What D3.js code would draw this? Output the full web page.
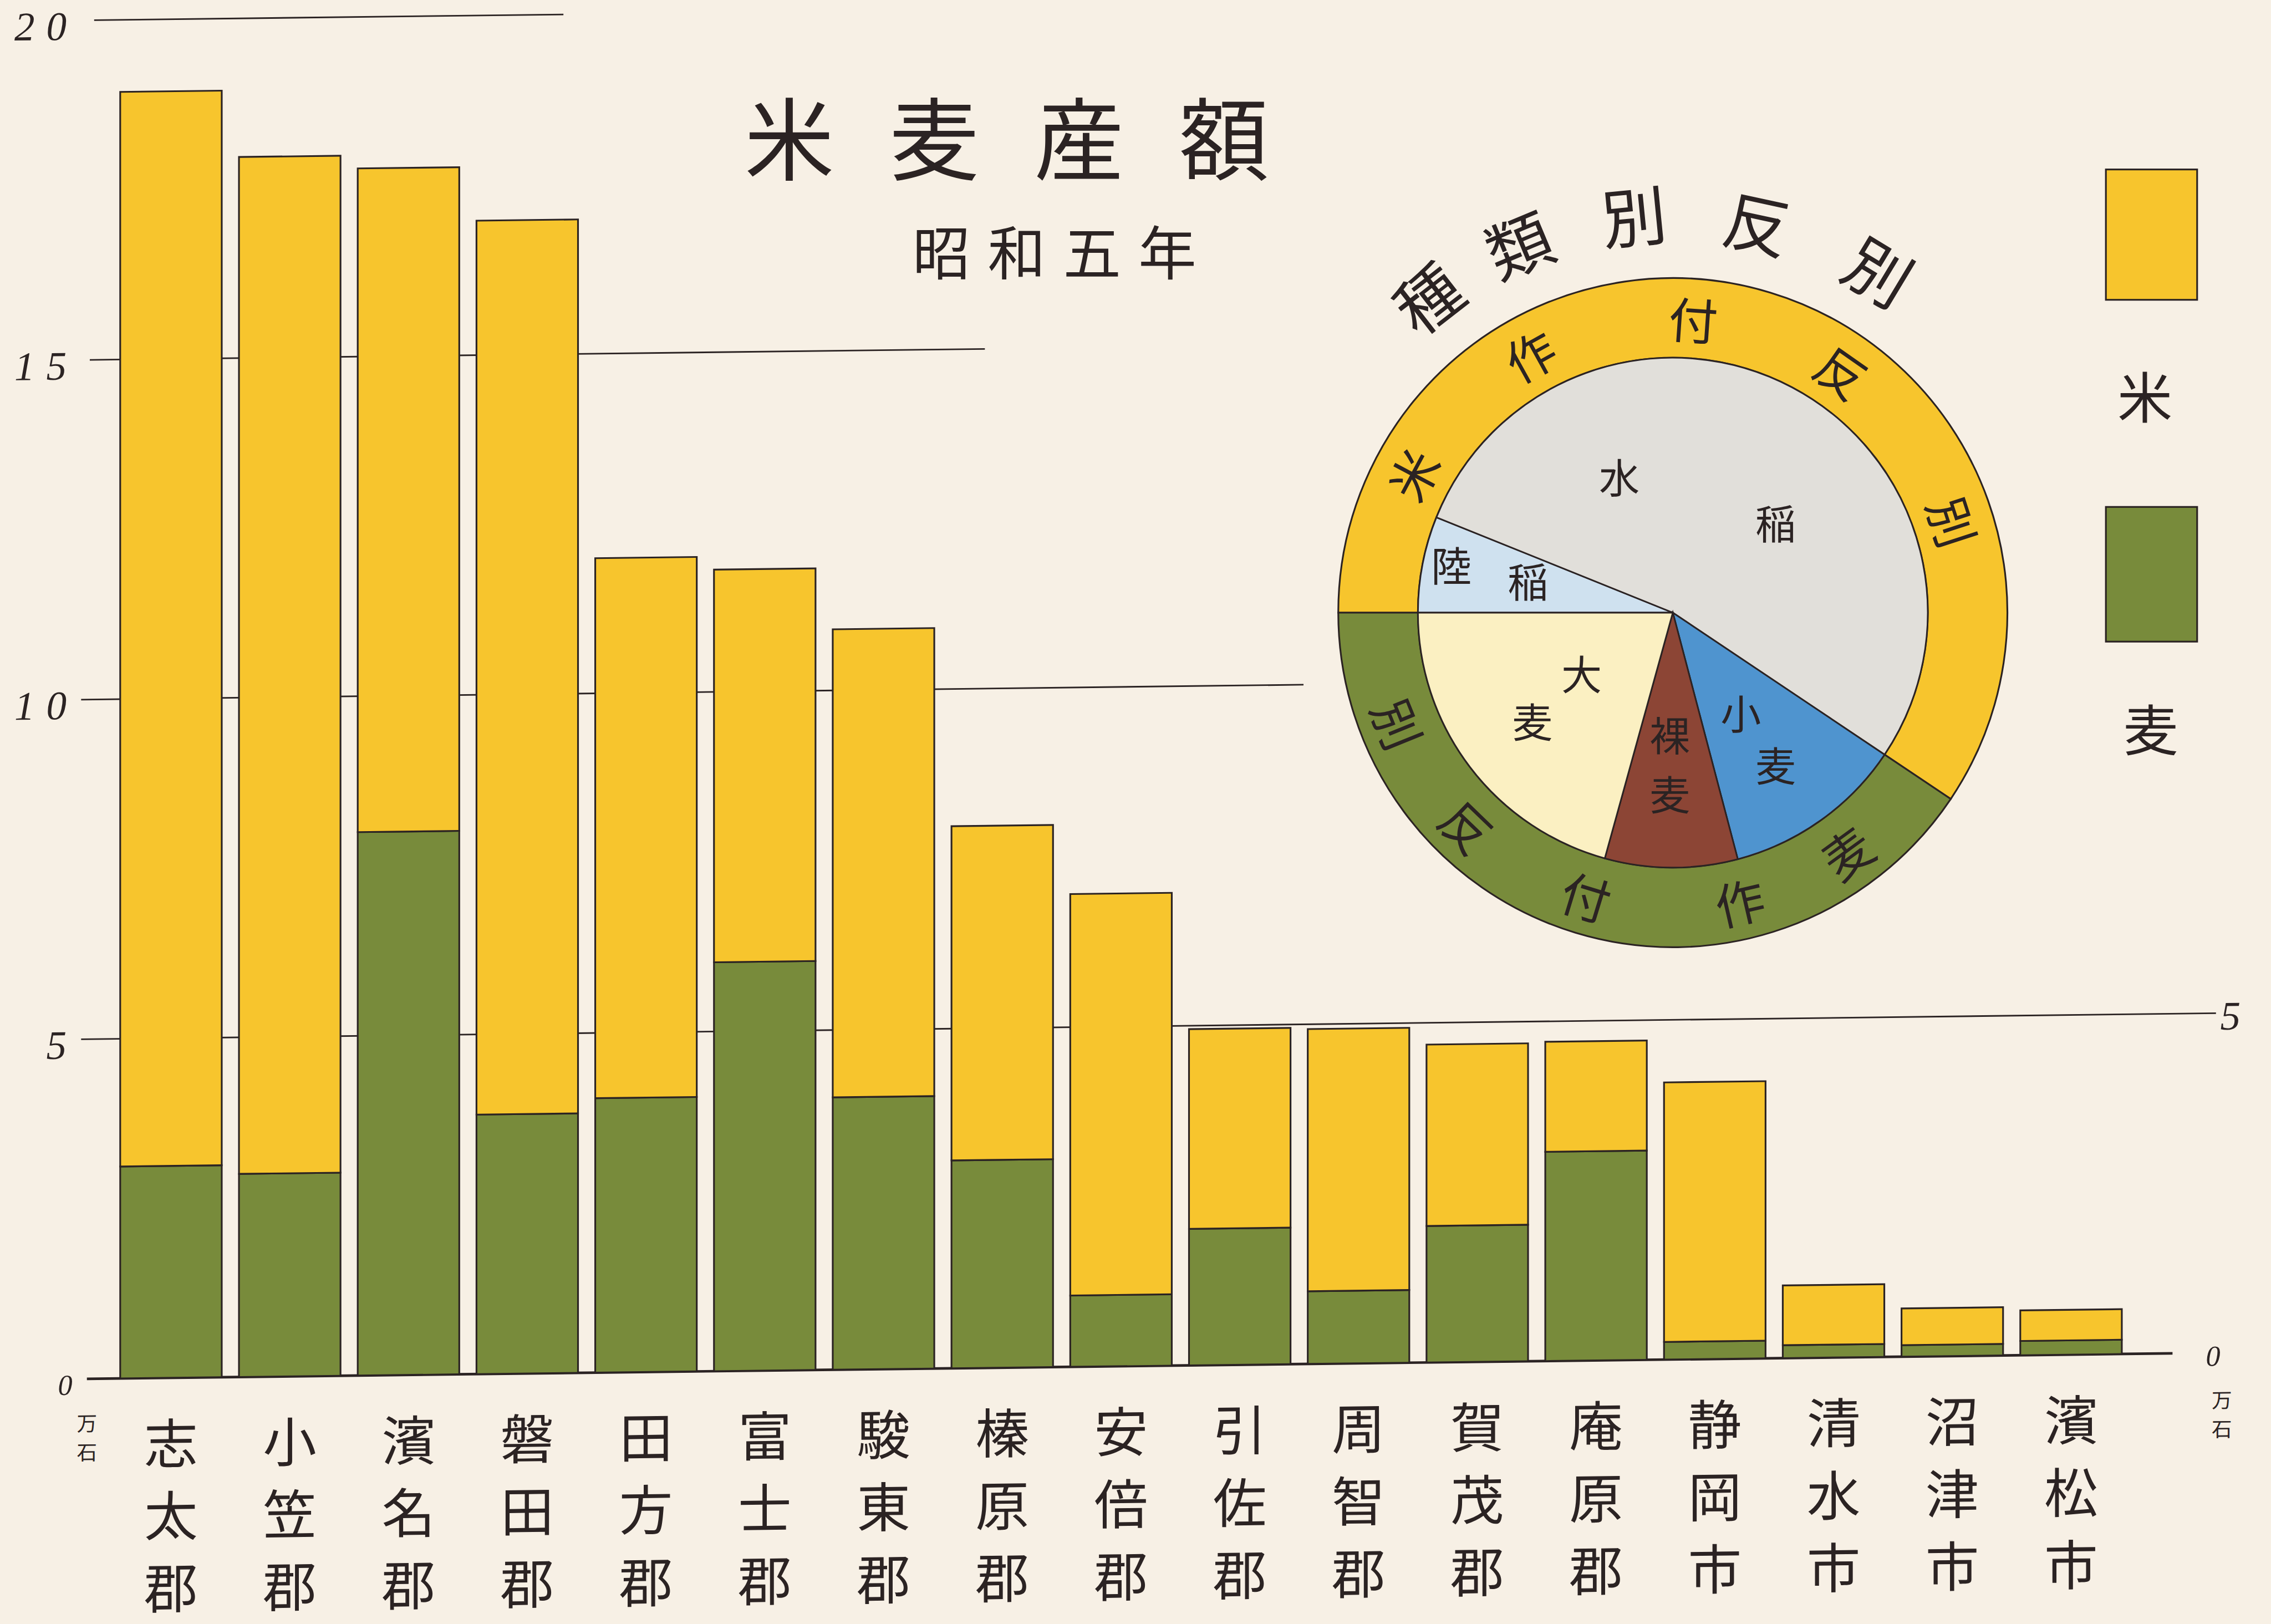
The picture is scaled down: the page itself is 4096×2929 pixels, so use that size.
<!DOCTYPE html>
<html>
<head>
<meta charset="utf-8">
<script src="https://cdn.jsdelivr.net/npm/d3@7"></script>
<style>
  body { margin: 0; background: #f7f0e5; }
</style>
</head>
<body>
<script>
// 米麦産額 昭和五年 (単位: 万石)
const districts = ["志太郡","小笠郡","濱名郡","磐田郡","田方郡","富士郡","駿東郡","榛原郡","安倍郡",
                   "引佐郡","周智郡","賀茂郡","庵原郡","静岡市","清水市","沼津市","濱松市"];
const rice  = [15.82, 14.97, 9.77, 13.16, 7.95, 5.78, 6.89, 4.92, 5.91, 2.94, 3.86, 2.67, 1.62, 3.82, 0.88, 0.54, 0.45];
const wheat = [3.12, 2.99, 8.00, 3.82, 4.04, 6.02, 4.01, 3.06, 1.05, 2.01, 1.07, 2.01, 3.08, 0.26, 0.19, 0.17, 0.21];
const yTicks = [0, 5, 10, 15, 20];
const yTickLabels = ["0", "5", "10", "15", "20"];

// 種類別反別 (%)
const cropTypes  = ["陸稲", "水稲", "小麦", "裸麦", "大麦"];
const cropShares = [6.1, 53.3, 11.5, 8.4, 20.7];
const cropGroup  = ["米", "米", "麦", "麦", "麦"];
const groups = ["米", "麦"];

const S = 4096 / 1568;
const ink = "#2b2323";
const cjk = "'Noto Sans CJK JP', 'Noto Sans CJK SC', sans-serif";
const yellow = "#f7c52d";
const green = "#788b3b";

const svg = d3.select("body").append("svg")
    .attr("width", 4096)
    .attr("height", 2929);
svg.append("rect").attr("width", 4096).attr("height", 2929).attr("fill", "#f7f0e5");
const g = svg.append("g").attr("transform", "scale(" + S + ")");

// ---- bar chart (the baseline on the sheet runs slightly uphill)
const plot = g.append("g").attr("transform", "translate(60,952) skewY(-0.7) translate(-60,-952)");

const x = d3.scaleBand().domain(districts).range([83, 1465]).paddingInner(0.145);
const y = d3.scaleLinear().domain([0, 20]).range([952, 14]);

const gridStart = {0: 60, 5: 56, 10: 56, 15: 62, 20: 65};
const gridEnd = {0: 1500, 5: 1530, 10: 900, 15: 680, 20: 389};

plot.selectAll("line.grid")
    .data(yTicks)
    .join("line")
    .attr("class", "grid")
    .attr("x1", d => gridStart[d])
    .attr("x2", d => gridEnd[d])
    .attr("y1", d => y(d))
    .attr("y2", d => y(d))
    .attr("stroke", ink)
    .attr("stroke-width", d => d === 0 ? 1.8 : 1.1);

plot.selectAll("text.ytick")
    .data(yTicks)
    .join("text")
    .attr("class", "ytick")
    .attr("x", d => d === 0 ? 58 : 54)
    .attr("y", d => y(d) + 4)
    .attr("text-anchor", "end")
    .attr("dominant-baseline", "central")
    .attr("font-family", "'Liberation Serif', serif")
    .attr("font-style", "italic")
    .attr("font-size", d => d === 0 ? 20 : 28)
    .attr("letter-spacing", 8)
    .attr("fill", ink)
    .text((d, i) => yTickLabels[i]);

// right side labels
plot.selectAll("text.ytickR")
    .data([0, 5])
    .join("text")
    .attr("class", "ytickR")
    .attr("x", d => d === 0 ? 1528 : 1540)
    .attr("y", d => y(d) + 2)
    .attr("text-anchor", "middle")
    .attr("dominant-baseline", "central")
    .attr("font-family", "'Liberation Serif', serif")
    .attr("font-style", "italic")
    .attr("font-size", d => d === 0 ? 20 : 28)
    .attr("fill", ink)
    .text(d => yTickLabels[yTicks.indexOf(d)]);

// unit 万石
[[60, 982], [1534, 984]].forEach(function(p) {
    ["万", "石"].forEach(function(c, i) {
        plot.append("text")
            .attr("x", p[0]).attr("y", p[1] + i * 20)
            .attr("text-anchor", "middle")
            .attr("dominant-baseline", "central")
            .attr("font-family", cjk)
            .attr("font-size", 14)
            .attr("fill", ink)
            .text(c);
    });
});

const table = districts.map((d, i) => ({district: d, 麦: wheat[i], 米: rice[i]}));
const stack = d3.stack().keys(["麦", "米"])(table);
const colour = d3.scaleOrdinal().domain(groups).range([yellow, green]);

plot.selectAll("g.layer")
    .data(stack)
    .join("g")
    .attr("class", "layer")
    .attr("fill", d => colour(d.key))
    .selectAll("rect")
    .data(d => d)
    .join("rect")
    .attr("x", d => x(d.data.district))
    .attr("width", x.bandwidth())
    .attr("y", d => y(d[1]))
    .attr("height", d => y(d[0]) - y(d[1]))
    .attr("stroke", ink)
    .attr("stroke-width", 1.2);

// district names, written vertically
plot.selectAll("g.name")
    .data(districts)
    .join("g")
    .attr("class", "name")
    .selectAll("text")
    .data(d => d.split("").map(c => ({c: c, d: d})))
    .join("text")
    .attr("x", d => x(d.d) + x.bandwidth() / 2)
    .attr("y", (d, i) => 995 + i * 50)
    .attr("text-anchor", "middle")
    .attr("dominant-baseline", "central")
    .attr("font-family", cjk)
    .attr("font-size", 37)
    .attr("fill", ink)
    .text(d => d.c);

// ---- titles
"米麦産額".split("").forEach(function(c, i) {
    g.append("text")
        .attr("x", 545 + i * 100).attr("y", 93)
        .attr("text-anchor", "middle")
        .attr("dominant-baseline", "central")
        .attr("font-family", cjk)
        .attr("font-size", 62)
        .attr("fill", ink)
        .text(c);
});
"昭和五年".split("").forEach(function(c, i) {
    g.append("text")
        .attr("x", 650 + i * 52).attr("y", 172)
        .attr("text-anchor", "middle")
        .attr("dominant-baseline", "central")
        .attr("font-family", cjk)
        .attr("font-size", 40)
        .attr("fill", ink)
        .text(c);
});

// ---- legend
const legend = [{key: "米", y: 117, h: 90, tx: 1481, ty: 272}, {key: "麦", y: 350, h: 93, tx: 1485, ty: 502}];
legend.forEach(function(l) {
    g.append("rect")
        .attr("x", 1454).attr("y", l.y)
        .attr("width", 63).attr("height", l.h)
        .attr("fill", colour(l.key))
        .attr("stroke", ink).attr("stroke-width", 1.2);
    g.append("text")
        .attr("x", l.tx).attr("y", l.ty)
        .attr("text-anchor", "middle")
        .attr("dominant-baseline", "central")
        .attr("font-family", cjk)
        .attr("font-size", 38)
        .attr("fill", ink)
        .text(l.key);
});

// ---- pie of area by crop type
const pieG = g.append("g").attr("transform", "translate(1155,423)");
const rIn = 176, rOut = 231;
const pie = d3.pie().sort(null).startAngle(-Math.PI / 2).endAngle(1.5 * Math.PI);

const groupTotals = groups.map(k => d3.sum(cropShares.filter((v, i) => cropGroup[i] === k)));
const ringArc = d3.arc().innerRadius(rIn).outerRadius(rOut);
pieG.selectAll("path.ring")
    .data(pie(groupTotals))
    .join("path")
    .attr("class", "ring")
    .attr("d", ringArc)
    .attr("fill", (d, i) => colour(groups[i]))
    .attr("stroke", ink)
    .attr("stroke-width", 1.2);

const sliceColour = d3.scaleOrdinal().domain(cropTypes)
    .range(["#cfe1ef", "#e1dfda", "#4f94cf", "#8c4535", "#fbf0c2"]);
const sliceArc = d3.arc().innerRadius(0).outerRadius(rIn);
pieG.selectAll("path.slice")
    .data(pie(cropShares))
    .join("path")
    .attr("class", "slice")
    .attr("d", sliceArc)
    .attr("fill", (d, i) => sliceColour(cropTypes[i]))
    .attr("stroke", ink)
    .attr("stroke-width", 1.1);

function arcText(chars, angles, r, size, flip) {
    chars.split("").forEach(function(c, i) {
        const a = angles[i] * Math.PI / 180;
        const px = r * Math.sin(a), py = -r * Math.cos(a);
        const rot = flip ? angles[i] - 180 : angles[i];
        pieG.append("text")
            .attr("transform", "translate(" + px + "," + py + ") rotate(" + rot + ")")
            .attr("text-anchor", "middle")
            .attr("dominant-baseline", "central")
            .attr("font-family", cjk)
            .attr("font-size", size)
            .attr("fill", ink)
            .text(c);
    });
}
arcText("米作付反別", [-62, -29, 4, 35, 72], 204, 34, false);
arcText("麦作付反別", [144, 167, 197, 224, 248], 204, 34, true);
arcText("種類別反別", [-37.9, -22.7, -5.6, 12.2, 31.1], 277, 45, false);

const innerLabels = [
    ["水", -37, -95], ["稲", 71, -63],
    ["陸", -153, -34], ["稲", -100, -23],
    ["大", -63, 41], ["麦", -97, 74],
    ["裸", -2, 83], ["麦", -2, 124],
    ["小", 47, 68], ["麦", 71, 104]
];
innerLabels.forEach(function(l) {
    pieG.append("text")
        .attr("x", l[1]).attr("y", l[2])
        .attr("text-anchor", "middle")
        .attr("dominant-baseline", "central")
        .attr("font-family", cjk)
        .attr("font-size", 28)
        .attr("fill", ink)
        .text(l[0]);
});
</script>
</body>
</html>
